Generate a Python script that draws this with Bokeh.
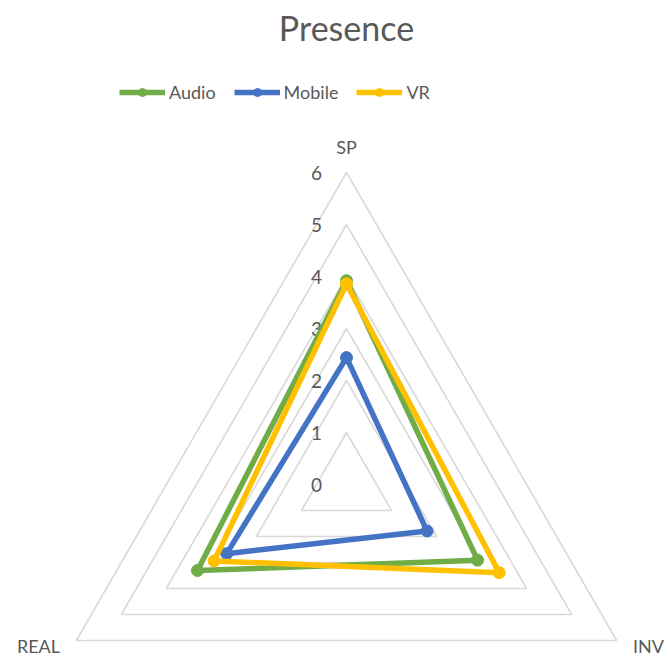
import numpy as np
from bokeh.plotting import figure
from bokeh.models import Range1d, Legend, LegendItem, ColumnDataSource
from bokeh.core.properties import value
from bokeh.embed import file_html
from bokeh.resources import INLINE

# ---- data ----
title = "Presence"
categories = ["SP", "INV", "REAL"]
series_names = ["Audio", "Mobile", "VR"]
audio = [3.92, 2.91, 3.31]
mobile = [2.44, 1.79, 2.66]
vr = [3.86, 3.39, 2.94]
ring_values = [1, 2, 3, 4, 5, 6]
tick_labels = ["0", "1", "2", "3", "4", "5", "6"]
colors = ["#70AD47", "#4472C4", "#FFC000"]

W, H = 668, 656
SCALE = 52.0          # px per unit
CX, CY = 346.0, 484.0  # centre in screen px (from top-left)


def sy(py):
    return (CY - py) / SCALE


def sx(px):
    return (px - CX) / SCALE


p = figure(width=W, height=H, output_backend="svg", toolbar_location=None,
           x_axis_location=None, y_axis_location=None, min_border=0,
           x_range=Range1d(sx(0), sx(W)), y_range=Range1d(sy(H), sy(0)))
p.grid.visible = False
p.outline_line_color = None
p.background_fill_color = "white"
p.border_fill_color = "white"

n = len(categories)
angles = np.pi / 2 - 2 * np.pi * np.arange(n) / n

# grid triangles
for r in ring_values:
    xs = list(r * np.cos(angles)) + [r * np.cos(angles[0])]
    ys = list(r * np.sin(angles)) + [r * np.sin(angles[0])]
    p.line(xs, ys, line_color="#D9D9D9", line_width=1.6)

FONT = "Lato"
GREY = "#595959"

# tick labels along the SP axis
tv = np.arange(len(tick_labels))
p.text(x=[sx(316)] * len(tv), y=tv, text=tick_labels, text_align="center",
       text_baseline="middle", text_font=value(FONT), text_font_size="19px",
       text_color=GREY)

# category labels
lx = [sx(346), sx(648), sx(38)]
ly = [sy(146), sy(645), sy(645)]
p.text(x=lx, y=ly, text=categories, text_align="center", text_baseline="middle",
       text_font=value(FONT), text_font_size="18px", text_color=GREY)

# title
p.text(x=[0.0], y=[sy(27)], text=[title], text_align="center",
       text_baseline="middle", text_font=value(FONT), text_font_size="34px",
       text_color=GREY)

items = []
for name, vals, col in zip(series_names, [audio, mobile, vr], colors):
    v = np.array(vals)
    xs = v * np.cos(angles)
    ys = v * np.sin(angles)
    src = ColumnDataSource(dict(x=list(xs) + [xs[0]], y=list(ys) + [ys[0]]))
    lr = p.line("x", "y", source=src, line_color=col, line_width=5.5,
                line_join="round")
    sr = p.scatter(list(xs), list(ys), size=12, fill_color=col, line_color=col)
    items.append(LegendItem(label=name, renderers=[lr, sr]))

legend = Legend(items=items, orientation="horizontal", location=(119, 553),
                padding=0, margin=0, spacing=18, glyph_width=46, glyph_height=20,
                label_standoff=4, label_text_font=FONT, label_text_font_size="18px",
                label_text_color=GREY, border_line_color=None,
                background_fill_alpha=0)
p.add_layout(legend)

open("out.html", "w").write(file_html(p, INLINE))
